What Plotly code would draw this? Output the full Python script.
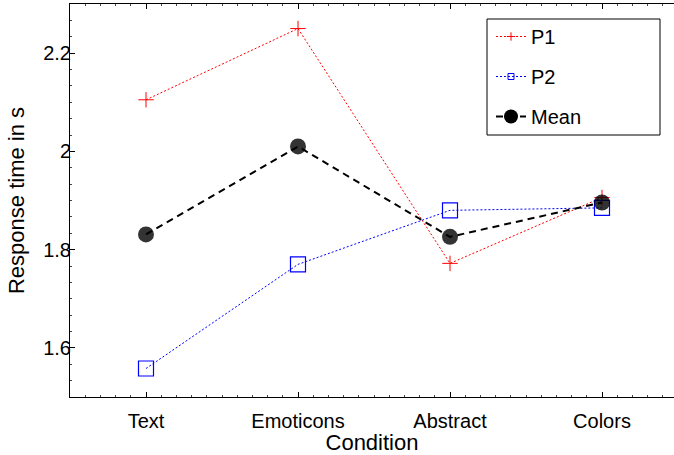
import plotly.graph_objects as go

# Conditions shown along the x axis
conditions = ["Text", "Emoticons", "Abstract", "Colors"]

# Response times (s) per participant and their mean
p1_times = [2.105, 2.250, 1.772, 1.906]
p2_times = [1.558, 1.770, 1.880, 1.885]
mean_times = [1.831, 2.010, 1.826, 1.896]

y_ticks = [1.6, 1.8, 2.0, 2.2]

x_pos = list(range(1, len(conditions) + 1))
FONT = "Liberation Sans, Arial, Helvetica, sans-serif"

fig = go.Figure()

fig.add_trace(go.Scatter(
    x=x_pos, y=p1_times, mode="lines+markers", name="P1", showlegend=False,
    line=dict(color="#ff0000", width=1, dash="2px,2px"),
    marker=dict(symbol="cross-thin", size=11, line=dict(color="#ff0000", width=1)),
))
fig.add_trace(go.Scatter(
    x=x_pos, y=p2_times, mode="lines+markers", name="P2", showlegend=False,
    line=dict(color="#0000ff", width=1, dash="2px,2px"),
    marker=dict(symbol="square-open", size=15, color="#0000ff", line=dict(color="#0000ff", width=1.2)),
))
fig.add_trace(go.Scatter(
    x=x_pos, y=mean_times, mode="lines+markers", name="Mean", showlegend=False,
    line=dict(color="#000000", width=2, dash="7px,5px"),
    marker=dict(symbol="circle", size=16, color="rgba(0,0,0,0.8)", line=dict(width=0)),
))

# Legend entries with compact symbols
fig.add_trace(go.Scatter(
    x=[None], y=[None], mode="lines+markers", name="P1", legendgroup="a",
    line=dict(color="#ff0000", width=1, dash="2px,2px"),
    marker=dict(symbol="cross-thin", size=6, line=dict(color="#ff0000", width=1)),
))
fig.add_trace(go.Scatter(
    x=[None], y=[None], mode="lines+markers", name="P2", legendgroup="b",
    line=dict(color="#0000ff", width=1, dash="2px,2px"),
    marker=dict(symbol="square-open", size=6, color="#0000ff", line=dict(color="#0000ff", width=1)),
))
fig.add_trace(go.Scatter(
    x=[None], y=[None], mode="lines+markers", name="Mean", legendgroup="c",
    line=dict(color="#000000", width=2, dash="7px,5px"),
    marker=dict(symbol="circle", size=14, color="#000000"),
))

axis_common = dict(
    showline=True, linecolor="black", linewidth=1,
    ticks="inside", ticklen=5, tickcolor="black", tickwidth=1,
    showgrid=False, zeroline=False,
    tickfont=dict(family=FONT, size=20, color="black"),
)

fig.update_layout(
    width=674, height=455,
    margin=dict(l=70, r=0, t=4, b=58),
    paper_bgcolor="white", plot_bgcolor="white",
    font=dict(family=FONT, size=20, color="black"),
    xaxis=dict(
        **axis_common, mirror="ticks",
        range=[0.5, 4.5 - 4 / 152],
        tickmode="array", tickvals=x_pos, ticktext=conditions,
        ticklabelstandoff=6,
        minor=dict(ticks="inside", ticklen=2, dtick=0.1, tick0=0.5, tickcolor="#444"),
        title=dict(text="Condition", font=dict(family=FONT, size=22), standoff=0),
    ),
    yaxis=dict(
        **axis_common,
        range=[1.5, 2.3],
        tickmode="array", tickvals=y_ticks, ticktext=[f"{v:g}" for v in y_ticks],
        ticklabelstandoff=-6,
        minor=dict(ticks="inside", ticklen=2, dtick=0.2 / 6, tick0=1.5, tickcolor="#444"),
        title=dict(text="Response time in s", font=dict(family=FONT, size=22), standoff=12),
    ),
    yaxis2=dict(
        overlaying="y", side="right", anchor="x", range=[1.5, 2.3],
        showline=False, showgrid=False, zeroline=False,
        ticks="inside", ticklen=5, tickcolor="black",
        tickmode="array", tickvals=y_ticks, showticklabels=False,
    ),
    legend=dict(
        x=(491 - 70) / 604, y=(397 - 17) / 393, xanchor="left", yanchor="top",
        bgcolor="rgba(0,0,0,0)", borderwidth=0,
        tracegroupgap=11, font=dict(family=FONT, size=20),
    ),
    shapes=[dict(
        type="rect", xref="paper", yref="paper",
        x0=(487 - 70) / 604, x1=(660 - 70) / 604,
        y0=(397 - 135) / 393, y1=(397 - 19) / 393,
        line=dict(color="black", width=1), fillcolor="white", layer="above",
    )],
)

fig.write_html("out.html")
